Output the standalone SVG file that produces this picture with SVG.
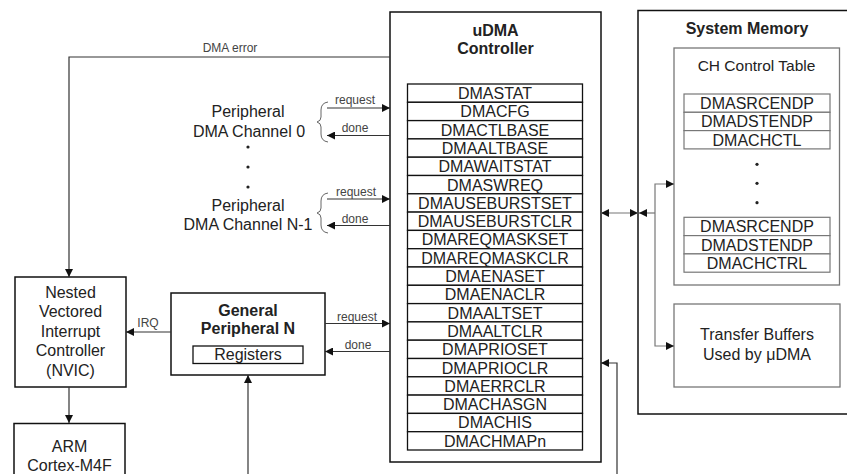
<svg xmlns="http://www.w3.org/2000/svg" width="847" height="474" viewBox="0 0 847 474">
<style>
text{font-family:"Liberation Sans",Arial,sans-serif;fill:#222;text-anchor:middle}
.t{font-size:16px}
.b{font-size:16px;font-weight:bold}
.s{font-size:12px;fill:#444}
.box{fill:#fff;stroke:#111;stroke-width:1.5}
.gbox{fill:#fff;stroke:#777;stroke-width:1.3}
.row{fill:#fff;stroke:#111;stroke-width:1.3}
.grow{fill:#fff;stroke:#777;stroke-width:1.2}
.ln{fill:none;stroke:#333;stroke-width:1.2}
.gl{fill:none;stroke:#777;stroke-width:1.2}
.br{fill:none;stroke:#666;stroke-width:1}
</style>
<defs>
<marker id="ah" viewBox="0 0 10 10" refX="10" refY="5" markerWidth="9" markerHeight="8" markerUnits="userSpaceOnUse" orient="auto-start-reverse">
<path d="M0,0 L10,5 L0,10 z" fill="#111"/>
</marker>
</defs>

<g id="peripheral-ch0">
<text class="t" x="248" y="116.5">Peripheral</text>
<text class="t" x="249" y="136.5">DMA Channel 0</text>
<path class="br" d="M328,102 Q321,103 321,110 L321,117 Q321,121 317,122 Q321,123 321,127 L321,134 Q321,141 328,142"/>
</g>
<g id="dots-left">
<circle cx="248" cy="147" r="1.6" fill="#222"/>
<circle cx="248" cy="167" r="1.6" fill="#222"/>
<circle cx="248" cy="187" r="1.6" fill="#222"/>
</g>
<g id="peripheral-chN1">
<text class="t" x="248" y="210.5">Peripheral</text>
<text class="t" x="248" y="230">DMA Channel N-1</text>
<path class="br" d="M328,193 Q321,194 321,201 L321,208 Q321,212 317,213 Q321,214 321,218 L321,225 Q321,232 328,233"/>
</g>

<g id="nvic">
<rect class="box" x="15" y="277" width="111" height="110"/>
<text class="t" x="70.5" y="297.5">Nested</text>
<text class="t" x="70.5" y="317">Vectored</text>
<text class="t" x="70.5" y="336.5">Interrupt</text>
<text class="t" x="70.5" y="356">Controller</text>
<text class="t" x="70.5" y="375.5">(NVIC)</text>
</g>

<g id="arm">
<rect class="box" x="14" y="423.5" width="111" height="70"/>
<text class="t" x="69.5" y="451.5">ARM</text>
<text class="t" x="69.5" y="471">Cortex-M4F</text>
</g>

<g id="general-peripheral">
<rect class="box" x="171" y="293" width="154" height="82"/>
<text class="b" x="248" y="315.5">General</text>
<text class="b" x="248" y="333.5">Peripheral N</text>
<rect class="row" x="193" y="346" width="110" height="17.5"/>
<text class="t" x="248" y="360">Registers</text>
</g>

<g id="udma">
<rect class="box" x="390" y="12" width="211" height="450"/>
<text class="b" x="495.5" y="36">uDMA</text>
<text class="b" x="495.5" y="54">Controller</text>
<g id="udma-registers">
<rect class="row" x="407.5" y="84" width="175" height="18.3"/>
<rect class="row" x="407.5" y="102.3" width="175" height="18.3"/>
<rect class="row" x="407.5" y="120.6" width="175" height="18.3"/>
<rect class="row" x="407.5" y="138.9" width="175" height="18.3"/>
<rect class="row" x="407.5" y="157.2" width="175" height="18.3"/>
<rect class="row" x="407.5" y="175.5" width="175" height="18.3"/>
<rect class="row" x="407.5" y="193.8" width="175" height="18.3"/>
<rect class="row" x="407.5" y="212.1" width="175" height="18.3"/>
<rect class="row" x="407.5" y="230.4" width="175" height="18.3"/>
<rect class="row" x="407.5" y="248.7" width="175" height="18.3"/>
<rect class="row" x="407.5" y="267" width="175" height="18.3"/>
<rect class="row" x="407.5" y="285.3" width="175" height="18.3"/>
<rect class="row" x="407.5" y="303.6" width="175" height="18.3"/>
<rect class="row" x="407.5" y="321.9" width="175" height="18.3"/>
<rect class="row" x="407.5" y="340.2" width="175" height="18.3"/>
<rect class="row" x="407.5" y="358.5" width="175" height="18.3"/>
<rect class="row" x="407.5" y="376.8" width="175" height="18.3"/>
<rect class="row" x="407.5" y="395.1" width="175" height="18.3"/>
<rect class="row" x="407.5" y="413.4" width="175" height="18.3"/>
<rect class="row" x="407.5" y="431.7" width="175" height="18.3"/>
<text class="t" x="495" y="99">DMASTAT</text>
<text class="t" x="495" y="117.3">DMACFG</text>
<text class="t" x="495" y="135.6">DMACTLBASE</text>
<text class="t" x="495" y="153.9">DMAALTBASE</text>
<text class="t" x="495" y="172.2">DMAWAITSTAT</text>
<text class="t" x="495" y="190.5">DMASWREQ</text>
<text class="t" x="495" y="208.8">DMAUSEBURSTSET</text>
<text class="t" x="495" y="227.1">DMAUSEBURSTCLR</text>
<text class="t" x="495" y="245.4">DMAREQMASKSET</text>
<text class="t" x="495" y="263.7">DMAREQMASKCLR</text>
<text class="t" x="495" y="282">DMAENASET</text>
<text class="t" x="495" y="300.3">DMAENACLR</text>
<text class="t" x="495" y="318.6">DMAALTSET</text>
<text class="t" x="495" y="336.9">DMAALTCLR</text>
<text class="t" x="495" y="355.2">DMAPRIOSET</text>
<text class="t" x="495" y="373.5">DMAPRIOCLR</text>
<text class="t" x="495" y="391.8">DMAERRCLR</text>
<text class="t" x="495" y="410.1">DMACHASGN</text>
<text class="t" x="495" y="428.4">DMACHIS</text>
<text class="t" x="495" y="446.7">DMACHMAPn</text>
</g>
</g>

<g id="system-memory">
<rect class="box" x="638" y="10.5" width="230" height="403.5"/>
<text class="b" x="747" y="34">System Memory</text>
</g>

<g id="ch-control-table">
<rect class="gbox" x="674" y="48" width="165.5" height="237"/>
<text class="t" x="756.5" y="71" style="font-size:15.5px">CH Control Table</text>
<rect class="grow" x="684" y="94" width="146" height="18.3"/>
<rect class="grow" x="684" y="112.3" width="146" height="18.3"/>
<rect class="grow" x="684" y="130.6" width="146" height="18.3"/>
<text class="t" x="757" y="109">DMASRCENDP</text>
<text class="t" x="757" y="127.3">DMADSTENDP</text>
<text class="t" x="757" y="145.6">DMACHCTL</text>
<circle cx="757" cy="164.3" r="1.6" fill="#222"/>
<circle cx="757" cy="183.3" r="1.6" fill="#222"/>
<circle cx="757" cy="202.7" r="1.6" fill="#222"/>
<rect class="grow" x="684" y="217.3" width="146" height="18.3"/>
<rect class="grow" x="684" y="235.6" width="146" height="18.3"/>
<rect class="grow" x="684" y="253.9" width="146" height="18.3"/>
<text class="t" x="757" y="232.3">DMASRCENDP</text>
<text class="t" x="757" y="250.6">DMADSTENDP</text>
<text class="t" x="757" y="268.9">DMACHCTRL</text>
</g>

<g id="transfer-buffers">
<rect class="gbox" x="674" y="304" width="166" height="83"/>
<text class="t" x="757" y="340">Transfer Buffers</text>
<text class="t" x="757" y="360">Used by μDMA</text>
</g>

<g id="connectors">
<polyline class="ln" points="390,57 69,57 69,277" marker-end="url(#ah)"/>
<line class="ln" x1="327" y1="108" x2="390" y2="108" marker-end="url(#ah)"/>
<line class="ln" x1="390" y1="135.5" x2="327" y2="135.5" marker-end="url(#ah)"/>
<line class="ln" x1="327" y1="199" x2="390" y2="199" marker-end="url(#ah)"/>
<line class="ln" x1="390" y1="225.5" x2="327" y2="225.5" marker-end="url(#ah)"/>
<line class="ln" x1="171" y1="332" x2="126" y2="332" marker-end="url(#ah)"/>
<line class="ln" x1="325" y1="323.5" x2="390" y2="323.5" marker-end="url(#ah)"/>
<line class="ln" x1="390" y1="351.5" x2="325" y2="351.5" marker-end="url(#ah)"/>
<line class="ln" x1="69" y1="387" x2="69" y2="423" marker-end="url(#ah)"/>
<line class="ln" x1="248" y1="474" x2="248" y2="375" marker-end="url(#ah)"/>
<polyline class="ln" points="617,474 617,363 601,363" marker-end="url(#ah)"/>
<line class="gl" x1="601" y1="213" x2="638" y2="213" marker-start="url(#ah)" marker-end="url(#ah)"/>
<line class="gl" x1="655" y1="213" x2="639" y2="213" marker-end="url(#ah)"/>
<polyline class="gl" points="674,184 655,184 655,346 674,346" marker-start="url(#ah)" marker-end="url(#ah)"/>
<text class="s" x="230" y="52">DMA error</text>
<text class="s" x="355" y="104">request</text>
<text class="s" x="355" y="131.5">done</text>
<text class="s" x="356" y="196">request</text>
<text class="s" x="355" y="222.5">done</text>
<text class="s" x="148" y="327">IRQ</text>
<text class="s" x="357" y="320.5">request</text>
<text class="s" x="358" y="348.5">done</text>
</g>
</svg>
